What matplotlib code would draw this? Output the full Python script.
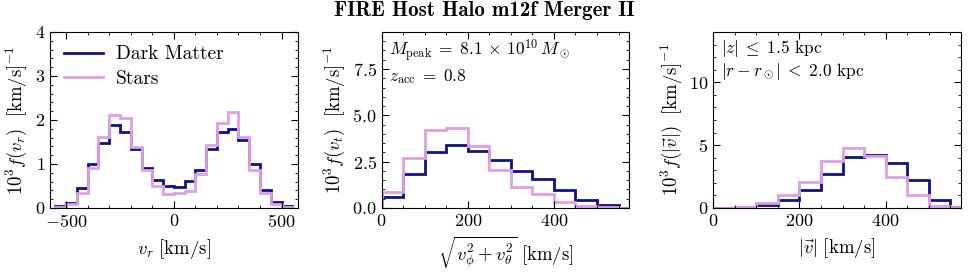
import numpy as np
import matplotlib
matplotlib.use('Agg')
from matplotlib import pyplot as plt
from matplotlib.ticker import AutoMinorLocator, MultipleLocator

plt.rcParams['font.family'] = 'serif'
plt.rcParams['font.serif'] = ['cmr10']
plt.rcParams['mathtext.fontset'] = 'cm'
plt.rcParams['axes.formatter.use_mathtext'] = True
plt.rcParams['font.size'] = 13.5

# v_r histogram, bins of 50 km/s from -550 to 550
vr_edges = np.arange(-550, 551, 50)
vr_dm = [0.04, 0.12, 0.45, 0.99, 1.48, 1.88, 1.73, 1.35, 0.92, 0.64, 0.49,
         0.48, 0.61, 0.87, 1.33, 1.73, 1.80, 1.54, 1.01, 0.42, 0.14, 0.05]
vr_st = [0.02, 0.09, 0.33, 0.92, 1.61, 2.11, 2.05, 1.38, 0.86, 0.50, 0.31,
         0.34, 0.39, 0.78, 1.44, 1.93, 2.18, 1.61, 0.86, 0.34, 0.10, 0.02]

# tangential speed, bins of 50 km/s from 0 to 600
vt_edges = np.arange(0, 601, 50)
vt_dm = [0.60, 1.86, 3.01, 3.39, 3.10, 2.61, 2.01, 1.55, 0.97, 0.44, 0.16, 0.02]
vt_st = [0.88, 2.70, 4.20, 4.29, 3.34, 2.04, 1.15, 0.73, 0.31, 0.13, 0.05, 0.02]

# speed
v_edges = np.arange(0, 601, 50)
v_dm = [0.0, 0.05, 0.27, 0.64, 1.44, 2.73, 4.06, 4.25, 3.61, 2.19, 0.67, 0.11]
v_st = [0.0, 0.10, 0.37, 1.07, 2.09, 3.72, 4.76, 4.14, 2.46, 1.07, 0.19, 0.05]

dm_color = '#10108a'
st_color = '#df9fe2'
lw = 2.0

fig = plt.figure(figsize=(9.68, 2.79), dpi=100)
lefts = [0.0517, 0.3943, 0.7369]
axes = [fig.add_axes([l, 0.2545, 0.2558, 0.631]) for l in lefts]

ax1, ax2, ax3 = axes
ax1.stairs(vr_dm, vr_edges, color=dm_color, lw=lw, label='Dark Matter')
ax1.stairs(vr_st, vr_edges, color=st_color, lw=lw, label='Stars')
ax1.set_xlim(-575, 575)
ax1.set_ylim(0, 4)
ax1.xaxis.set_major_locator(MultipleLocator(500))
ax1.yaxis.set_major_locator(MultipleLocator(1))
ax1.set_xlabel(r'$v_r\ [\rm km/s]$', labelpad=5)
ax1.set_ylabel(r'$10^3 f(v_r)\ \ [\rm km/s]^{-1}$', labelpad=4)
ax1.legend(loc='upper left', frameon=False, handlelength=2.0, handletextpad=0.7,
           labelspacing=0.35, fontsize=14, borderaxespad=0.3)

ax2.stairs(vt_dm, vt_edges, color=dm_color, lw=lw)
ax2.stairs(vt_st, vt_edges, color=st_color, lw=lw)
ax2.set_xlim(0, 575)
ax2.set_ylim(0, 9.5)
ax2.xaxis.set_major_locator(MultipleLocator(200))
ax2.yaxis.set_major_locator(MultipleLocator(2.5))
ax2.set_xlabel(r'$\sqrt{v_\phi^2 + v_\theta^2}\ [\rm km/s]$')
ax2.set_ylabel(r'$10^3 f(v_t)\ \ [\rm km/s]^{-1}$', labelpad=4)
ax2.text(0.03, 0.965, r'$M_{\rm peak} \;=\; 8.1 \,\times\, 10^{10}\, M_\odot$' + '\n' + r'$z_{\rm acc} \;=\; 0.8$',
         transform=ax2.transAxes, va='top', ha='left', linespacing=1.15, fontsize=12.5)

ax3.stairs(v_dm, v_edges, color=dm_color, lw=lw)
ax3.stairs(v_st, v_edges, color=st_color, lw=lw)
ax3.set_xlim(0, 575)
ax3.set_ylim(0, 14)
ax3.xaxis.set_major_locator(MultipleLocator(200))
ax3.yaxis.set_major_locator(MultipleLocator(5))
ax3.set_xlabel(r'$|\vec{v}|\ [\rm km/s]$', labelpad=5)
ax3.set_ylabel(r'$10^3 f(|\vec{v}|)\ \ [\rm km/s]^{-1}$', labelpad=4)
ax3.text(0.03, 0.965, r'$|z| \;\leq\; 1.5$ kpc' + '\n' + r'$|r - r_\odot| \;<\; 2.0$ kpc',
         transform=ax3.transAxes, va='top', ha='left', linespacing=1.15, fontsize=12.5)

for ax in axes:
    ax.xaxis.set_minor_locator(AutoMinorLocator())
    ax.yaxis.set_minor_locator(AutoMinorLocator(5))
    ax.tick_params(which='both', direction='in', top=True, right=True, labelsize=13)
    ax.tick_params(which='major', length=5)
    ax.tick_params(which='minor', length=2.5)

fig.suptitle('FIRE Host Halo m12f Merger II', fontfamily='cmb10', fontsize=15, y=0.995)

fig.savefig('out.png', dpi=100)
